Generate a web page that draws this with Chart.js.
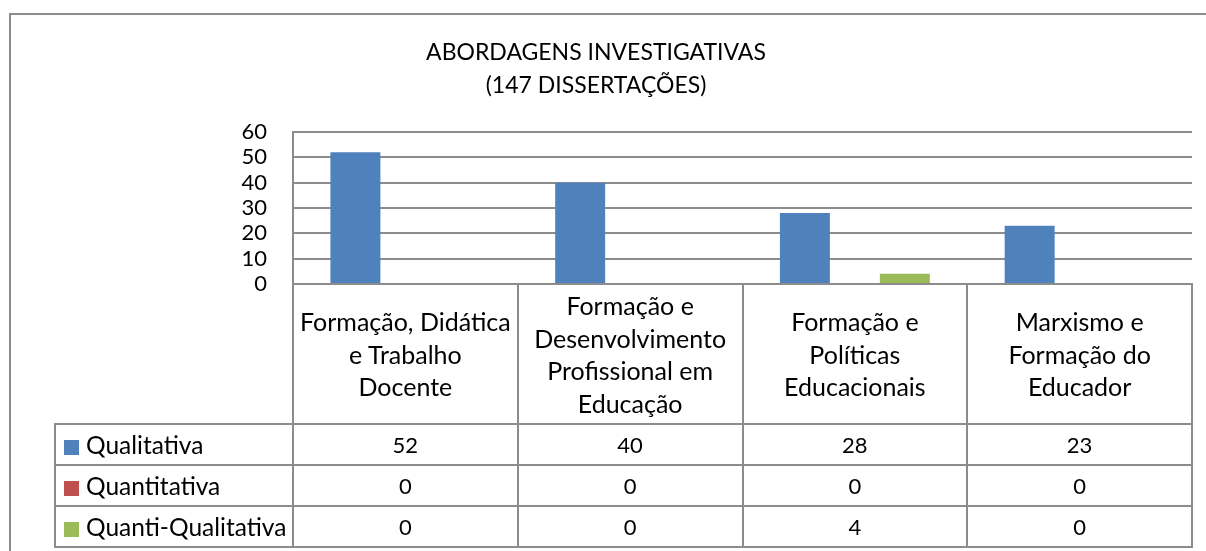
<!DOCTYPE html>
<html>
<head>
<meta charset="utf-8">
<script src="https://cdn.jsdelivr.net/npm/chart.js@4/dist/chart.umd.min.js"></script>
<style>
  body { margin: 0; background: #fff; }
  #wrap { position: relative; width: 1206px; height: 551px; overflow: hidden; font-family: Lato, 'Open Sans', sans-serif; }
  #frame { position: absolute; left: 9px; top: 13px; width: 1400px; height: 800px; border-left: 2px solid #8c8c8c; border-top: 2px solid #8c8c8c; }
  #chart { position: absolute; left: 0; top: 0; width: 1206px; height: 551px; }
  #tbl { position: absolute; border-collapse: collapse; table-layout: fixed; font-size: 22px; color: #000; }
  #tbl td { border: 2px solid #8c8c8c; text-align: center; padding: 0; }
  #tbl td.blank { border: none; }
  #tbl tr.head td { line-height: 32.5px; vertical-align: middle; font-size: 25px; }
  #tbl td.name { text-align: left; padding-left: 8px; white-space: nowrap; font-size: 24.5px; }
  .mark { display: inline-block; width: 15px; height: 15px; margin-right: 7px; vertical-align: -1px; }
</style>
</head>
<body>
<div id="wrap">
  <div id="frame"></div>
  <div id="chart"><canvas id="c"></canvas></div>
  <table id="tbl"></table>
</div>
<script>
// Abordagens investigativas — clustered bars with an Excel-style data table underneath

const categories = [
  ['Formação, Didática', 'e Trabalho', 'Docente'],
  ['Formação e', 'Desenvolvimento', 'Profissional em', 'Educação'],
  ['Formação e', 'Políticas', 'Educacionais'],
  ['Marxismo e', 'Formação do', 'Educador'],
];
const seriesNames = ['Qualitativa', 'Quantitativa', 'Quanti-Qualitativa'];
const qualitativa = [52, 40, 28, 23];
const quantitativa = [0, 0, 0, 0];
const quantiQualitativa = [0, 0, 4, 0];
const seriesColours = ['#4f81bd', '#c0504d', '#9bbb59'];
const titleLines = ['ABORDAGENS INVESTIGATIVAS', '(147 DISSERTAÇÕES)'];
const yMax = 60;
const yStep = 10;

const seriesValues = [qualitativa, quantitativa, quantiQualitativa];
const GRID = '#8c8c8c';
const FONT = 'Lato';

const datasets = seriesNames.map((name, i) => ({
  label: name,
  data: seriesValues[i],
  backgroundColor: seriesColours[i],
  borderWidth: 0,
  barPercentage: 1,
  categoryPercentage: 0.667,
}));

const chart = new Chart(document.getElementById('c'), {
  type: 'bar',
  data: { labels: categories, datasets },
  options: {
    responsive: true,
    maintainAspectRatio: false,
    animation: false,
    layout: { padding: { left: 0, right: 14, top: 0, bottom: 267 } },
    plugins: {
      legend: { display: false },
      tooltip: { enabled: false },
      title: {
        display: true,
        text: titleLines,
        color: '#000',
        font: { family: FONT, size: 23, weight: 'normal', lineHeight: 33 / 23 },
        padding: { top: 36, bottom: 30 },
      },
    },
    scales: {
      x: {
        ticks: { display: false },
        grid: { display: false },
        border: { display: true, color: GRID, width: 2 },
        afterFit: (s) => { s.height = 0; },
      },
      y: {
        min: 0,
        max: yMax,
        ticks: { stepSize: yStep, autoSkip: false, color: '#000', padding: 26, font: { family: FONT, size: 22 } },
        grid: { color: GRID, lineWidth: 2, drawTicks: false },
        border: { display: true, color: GRID, width: 2 },
        afterFit: (s) => { s.width = 293; },
      },
    },
  },
});

// data table below the plot, lined up with the category slots
function buildTable() {
  const area = chart.chartArea;
  const colW = (area.right - area.left) / categories.length;
  const legendLeft = 55;
  const tbl = document.getElementById('tbl');
  tbl.style.left = (legendLeft - 1) + 'px';
  tbl.style.top = (area.bottom - 1) + 'px';

  let html = '<colgroup><col style="width:' + (area.left - legendLeft) + 'px">';
  categories.forEach(() => { html += '<col style="width:' + colW + 'px">'; });
  html += '</colgroup>';

  html += '<tr class="head" style="height:140px"><td class="blank"></td>';
  categories.forEach((c) => { html += '<td>' + c.join('<br>') + '</td>'; });
  html += '</tr>';

  seriesNames.forEach((name, i) => {
    html += '<tr style="height:41px"><td class="name"><span class="mark" style="background:' +
      seriesColours[i] + '"></span>' + name + '</td>';
    seriesValues[i].forEach((v) => { html += '<td>' + v + '</td>'; });
    html += '</tr>';
  });
  tbl.innerHTML = html;
}
buildTable();
</script>
</body>
</html>
